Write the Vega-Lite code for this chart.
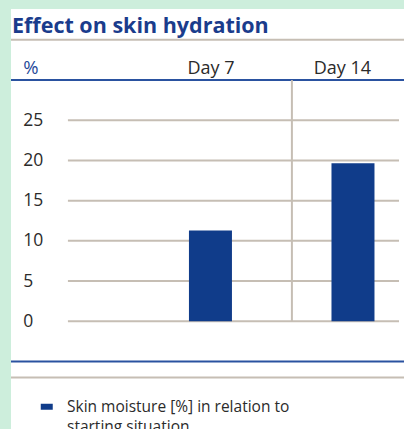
{
  "$schema": "https://vega.github.io/schema/vega-lite/v6.json",
  "width": 393,
  "height": 420,
  "autosize": {"type": "none"},
  "padding": {"left": 11, "top": 9, "right": 0, "bottom": 0},
  "background": "#cdeedc",
  "title": {
    "text": "Effect on skin hydration",
    "anchor": "start",
    "frame": "group",
    "orient": "top",
    "baseline": "alphabetic",
    "offset": 0,
    "dy": 45,
    "dx": 1,
    "font": "Open Sans",
    "fontSize": 21.5,
    "fontWeight": "bold",
    "color": "#1a3c8c"
  },
  "datasets": {
    "bars": [
      {"day": 7, "value": 11.3, "series": "Skin moisture [%] in relation to starting situation"},
      {"day": 14, "value": 19.65, "series": "Skin moisture [%] in relation to starting situation"}
    ],
    "grid": [{"v": 0}, {"v": 5}, {"v": 10}, {"v": 15}, {"v": 20}, {"v": 25}],
    "greyLines": [{"v": 35}, {"v": -7}],
    "blueLines": [{"v": 30}, {"v": -5}],
    "divider": [{"day": 11, "from": 0, "to": 30}]
  },
  "layer": [
    {
      "data": {"name": "grid"},
      "mark": {"type": "rule", "color": "#c6beb4", "strokeWidth": 2},
      "encoding": {
        "y": {"field": "v", "type": "quantitative", "scale": {"domain": [-13.4, 38.84], "nice": false, "zero": false}},
        "x": {"datum": 0, "type": "quantitative", "scale": {"domain": [-2.55, 16.26], "nice": false, "zero": false}},
        "x2": {"datum": 16.26}
      }
    },
    {
      "data": {"name": "greyLines"},
      "mark": {"type": "rule", "color": "#c6beb4", "strokeWidth": 2},
      "encoding": {
        "y": {"field": "v", "type": "quantitative", "scale": {"domain": [-13.4, 38.84], "nice": false, "zero": false}}
      }
    },
    {
      "data": {"name": "blueLines"},
      "mark": {"type": "rule", "color": "#2a52a0", "strokeWidth": 2},
      "encoding": {
        "y": {"field": "v", "type": "quantitative", "scale": {"domain": [-13.4, 38.84], "nice": false, "zero": false}}
      }
    },
    {
      "data": {"name": "divider"},
      "mark": {"type": "rule", "color": "#c6beb4", "strokeWidth": 2},
      "encoding": {
        "x": {"field": "day", "type": "quantitative", "scale": {"domain": [-2.55, 16.26], "nice": false, "zero": false}},
        "y": {"field": "from", "type": "quantitative", "scale": {"domain": [-13.4, 38.84], "nice": false, "zero": false}},
        "y2": {"field": "to"}
      }
    },
    {
      "data": {"name": "bars"},
      "mark": {"type": "bar", "size": 43, "color": "#103c8a"},
      "encoding": {
        "x": {
          "field": "day",
          "type": "quantitative",
          "scale": {"domain": [-2.55, 16.26], "nice": false, "zero": false},
          "axis": {
            "orient": "top",
            "values": [7, 14],
            "labelExpr": "'Day ' + datum.value",
            "domain": false,
            "grid": false,
            "ticks": false,
            "tickSize": 0,
            "title": null,
            "labelBaseline": "alphabetic",
            "labelPadding": -64,
            "labelOffset": {"condition": {"test": "datum.value == 14", "value": -11}, "value": 0},
            "labelFont": "Open Sans",
            "labelFontSize": 18,
            "labelColor": "#2b2b2b"
          }
        },
        "y": {
          "field": "value",
          "type": "quantitative",
          "scale": {"domain": [-13.4, 38.84], "nice": false, "zero": false},
          "axis": {
            "orient": "left",
            "values": [0, 5, 10, 15, 20, 25],
            "domain": false,
            "grid": false,
            "ticks": false,
            "tickSize": 0,
            "labelAlign": "left",
            "labelBaseline": "middle",
            "labelPadding": -11.7,
            "labelFont": "Open Sans",
            "labelFontSize": 17.5,
            "labelColor": "#2b2b2b",
            "title": "%",
            "titleAngle": 0,
            "titleAlign": "left",
            "titleBaseline": "alphabetic",
            "titleX": 11.7,
            "titleY": 64,
            "titleFont": "Open Sans",
            "titleFontSize": 18.5,
            "titleFontWeight": "normal",
            "titleColor": "#1f4a9a"
          }
        },
        "color": {
          "field": "series",
          "type": "nominal",
          "scale": {"range": ["#103c8a"]},
          "legend": {
            "orient": "none",
            "legendX": 28,
            "legendY": 390,
            "title": null,
            "padding": 0,
            "symbolType": "M-1,-0.5H1V0.5H-1Z",
            "symbolSize": 144,
            "symbolStrokeWidth": 0,
            "labelFont": "Open Sans",
            "labelFontSize": 15.5,
            "labelColor": "#2b2b2b",
            "labelOffset": 12.5,
            "labelLimit": 400,
            "labelExpr": "['Skin moisture [%] in relation to', 'starting situation']"
          }
        }
      }
    }
  ],
  "config": {
    "view": {"stroke": null, "fill": "white"},
    "style": {"guide-label": {"lineHeight": 20}}
  }
}
